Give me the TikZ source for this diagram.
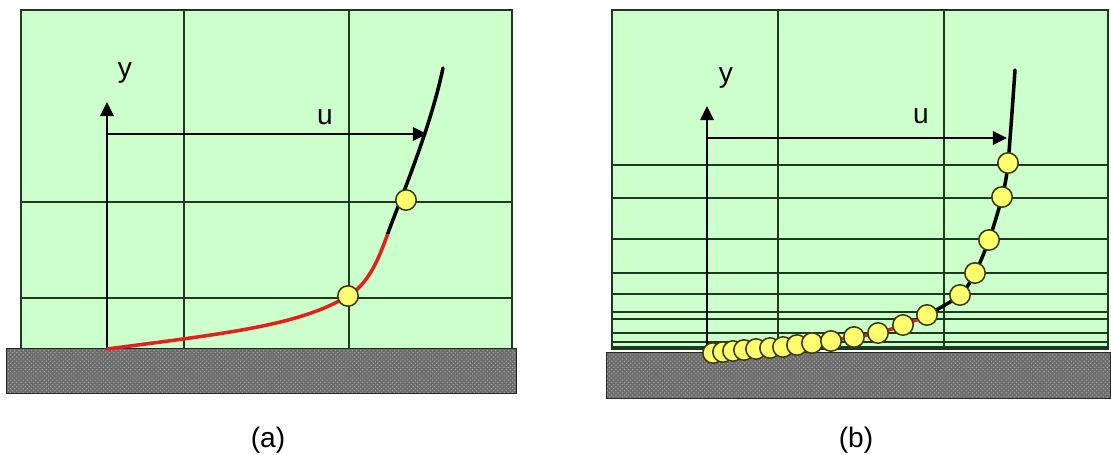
\documentclass[tikz,border=0pt]{standalone}
\usepackage{fontspec}
\setmainfont{Liberation Sans}
\usetikzlibrary{arrows.meta,patterns}
\definecolor{cellgreen}{HTML}{CCFFCC}
\definecolor{gridgreen}{HTML}{1C3A1C}
\definecolor{groundgray}{HTML}{6C6C6C}
\definecolor{curvered}{HTML}{E3201B}
\definecolor{dotyellow}{HTML}{FFFF6E}
\definecolor{dotedge}{HTML}{3A3A10}

\begin{document}
\begin{tikzpicture}[
  x=0.025cm,
  y=-0.025cm,
  every node/.style={font=\fontsize{20}{24}\selectfont, text=black},
  meshbox/.style={fill=cellgreen, draw=gridgreen, line width=1.6pt},
  gridln/.style={gridgreen, line width=1.6pt},
  soilbox/.style={fill=groundgray},
  soiltex/.style={pattern=crosshatch dots, pattern color=gray!65},
  soiledge/.style={draw=black!85, line width=0.7pt},
  axis/.style={black, line width=1.2pt, -{Triangle[length=10pt,width=9.5pt]}},
  bentline/.style={line width=2.5pt, line cap=round},
  fibre/.style={circle, fill=dotyellow, draw=dotedge, line width=1.1pt,
                inner sep=0pt, minimum size=14.5pt}
]
  \useasboundingbox (0,0) rectangle (1111,454);

  % ---- (a): coarse mesh ----
  \draw[meshbox] (21,10) rectangle (512,349);
  \foreach \gx in {184,349} \draw[gridln] (\gx,10) -- (\gx,349);
  \foreach \gy in {202,298} \draw[gridln] (21,\gy) -- (512,\gy);
  \fill[soilbox] (6,348) rectangle (516,393);
  \fill[soiltex] (6,348) rectangle (516,393);
  \draw[soiledge] (6,348) rectangle (516,393);

  % ---- (a): axes ----
  \coordinate (Oa) at (107,349);
  \coordinate (Ya) at (107,102);
  \coordinate (Ua0) at (107,134);
  \coordinate (Ua) at (427,134);
  \draw[axis] (Oa) -- (Ya);
  \draw[axis] (Ua0) -- (Ua);
  \node (ya) at (125,73) {y};
  \node (ua) at (325,117) {u};

  % ---- (a): deformed pile, red below, black above ----
  \begin{scope}
    \clip (0,233) rectangle (520,360);
    \draw[bentline, curvered] (Oa) .. controls (230,333) and (300,325) .. (348,296)
      .. controls (370,283) and (380,255) .. (388,233)
      .. controls (400,200) and (430,130) .. (443,68);
  \end{scope}
  \begin{scope}
    \clip (0,0) rectangle (520,233);
    \draw[bentline] (Oa) .. controls (230,333) and (300,325) .. (348,296)
      .. controls (370,283) and (380,255) .. (388,233)
      .. controls (400,200) and (430,130) .. (443,68);
  \end{scope}
  \node[fibre] (da1) at (348,296) {};
  \node[fibre] (da2) at (406,200) {};

  % ---- (b): refined mesh ----
  \draw[meshbox] (612,10) rectangle (1108,349);
  \foreach \gx in {778,944} \draw[gridln] (\gx,10) -- (\gx,349);
  \foreach \gy in {165,198,239,273,294,312,319,333,342}
    \draw[gridln] (612,\gy) -- (1108,\gy);
  \draw[gridln, line width=3.5pt] (612,348) -- (1108,348);
  \fill[soilbox] (606,352) rectangle (1111,398);
  \fill[soiltex] (606,352) rectangle (1111,398);
  \draw[soiledge] (606,352) rectangle (1110.6,398);

  % ---- (b): axes ----
  \coordinate (Ob) at (707,349);
  \coordinate (Yb) at (707,106);
  \coordinate (Ub0) at (707,138);
  \coordinate (Ub) at (1007,138);
  \draw[axis] (Ob) -- (Yb);
  \draw[axis] (Ub0) -- (Ub);
  \node (yb) at (726,78) {y};
  \node (ub) at (921,116) {u};

  % ---- (b): deformed pile ----
  \begin{scope}
    \clip (600,318) rectangle (1111,360);
    \draw[bentline, curvered] plot[smooth, tension=0.5] coordinates
      {(707,351) (733,351) (756,349) (783,347) (812,343) (854,337) (878,333)
       (903,325) (927,315) (960,295) (975,273) (989,240) (1002,197) (1008,163) (1015,70)};
  \end{scope}
  \begin{scope}
    \clip (600,0) rectangle (1111,318);
    \draw[bentline] plot[smooth, tension=0.5] coordinates
      {(707,351) (733,351) (756,349) (783,347) (812,343) (854,337) (878,333)
       (903,325) (927,315) (960,295) (975,273) (989,240) (1002,197) (1008,163) (1015,70)};
  \end{scope}
  \foreach \px/\py [count=\i] in {713/353,723/352,733/351,744/350,756/349,770/348,
      783/347,797/345,812/343,831/341,854/337,878/333,903/325,927/315,
      960/295,975/273,989/240,1002/197,1008/163}
    \node[fibre] (db\i) at (\px,\py) {};

  % ---- captions ----
  \node (capa) at (268,440) {(a)};
  \node (capb) at (856,440) {(b)};
\end{tikzpicture}
\end{document}
